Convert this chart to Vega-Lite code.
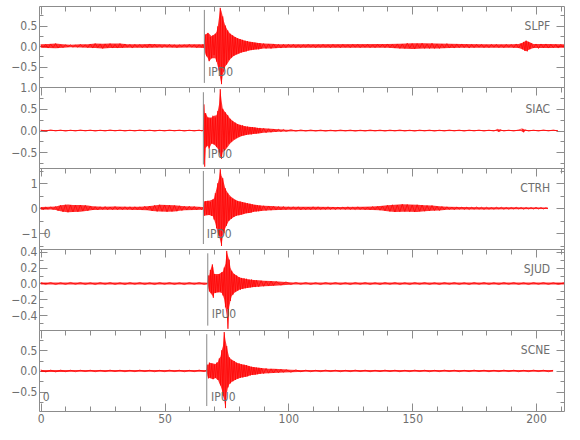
{
"$schema": "https://vega.github.io/schema/vega-lite/v6.json",
"padding": {"left": 5, "top": 5, "right": 5, "bottom": 5},
"spacing": 0,
"bounds": "flush",
"config": {
  "view": {"stroke": "#8c8c8c", "strokeWidth": 1},
  "axis": {"domain": false, "grid": false, "tickColor": "#8c8c8c", "tickWidth": 1, "labelColor": "#6e6e6e", "labelFont": "Liberation Sans Narrow, DejaVu Sans Condensed, Liberation Sans, sans-serif", "labelFontSize": 12},
  "text": {"font": "Liberation Sans Narrow, DejaVu Sans Condensed, Liberation Sans, sans-serif", "fontSize": 12, "color": "#6e6e6e"}
},
"resolve": {"scale": {"x": "independent", "y": "independent"}},
"datasets": {
"w1": [
{"t":0,"v":0.02},{"t":1,"v":-0.03},{"t":2,"v":0.04},{"t":3,"v":-0.05},{"t":4,"v":0.05},{"t":5,"v":-0.04},{"t":6,"v":0.06},{"t":7,"v":-0.05},{"t":8,"v":0.03},{"t":9,"v":-0.04},
{"t":10,"v":0.03},{"t":11,"v":-0.02},{"t":12,"v":0.03},{"t":13,"v":-0.03},{"t":14,"v":0.02},{"t":15,"v":-0.03},{"t":16,"v":0.04},{"t":17,"v":-0.03},{"t":18,"v":0.03},{"t":19,"v":-0.04},
{"t":20,"v":0.05},{"t":21,"v":-0.05},{"t":22,"v":0.06},{"t":23,"v":-0.04},{"t":24,"v":0.05},{"t":25,"v":-0.06},{"t":26,"v":0.05},{"t":27,"v":-0.04},{"t":28,"v":0.06},{"t":29,"v":-0.05},
{"t":30,"v":0.04},{"t":31,"v":-0.05},{"t":32,"v":0.06},{"t":33,"v":-0.04},{"t":34,"v":0.05},{"t":35,"v":-0.03},{"t":36,"v":0.04},{"t":37,"v":-0.05},{"t":38,"v":0.04},{"t":39,"v":-0.03},
{"t":40,"v":0.04},{"t":41,"v":-0.04},{"t":42,"v":0.03},{"t":43,"v":-0.04},{"t":44,"v":0.05},{"t":45,"v":-0.03},{"t":46,"v":0.04},{"t":47,"v":-0.03},{"t":48,"v":0.03},{"t":49,"v":-0.04},
{"t":50,"v":0.03},{"t":51,"v":-0.03},{"t":52,"v":0.04},{"t":53,"v":-0.03},{"t":54,"v":0.03},{"t":55,"v":-0.04},{"t":56,"v":0.03},{"t":57,"v":-0.02},{"t":58,"v":0.03},{"t":59,"v":-0.03},
{"t":60,"v":0.04},{"t":61,"v":-0.03},{"t":62,"v":0.03},{"t":63,"v":-0.04},{"t":64,"v":0.03},{"t":65,"v":-0.03},{"t":65.5,"v":0.04},{"t":66,"v":-0.05},
{"t":66.5,"v":0.28},{"t":67,"v":-0.25},{"t":67.5,"v":0.32},{"t":68,"v":-0.37},{"t":68.5,"v":0.22},{"t":69,"v":-0.3},{"t":69.5,"v":0.26},{"t":70,"v":-0.22},{"t":70.5,"v":0.3},{"t":71,"v":-0.38},
{"t":71.5,"v":0.48},{"t":72,"v":-0.6},{"t":72.5,"v":0.93},{"t":73,"v":-0.93},{"t":73.5,"v":0.72},{"t":74,"v":-0.62},{"t":74.5,"v":0.5},{"t":75,"v":-0.45},{"t":75.5,"v":0.38},{"t":76,"v":-0.34},
{"t":76.5,"v":0.3},{"t":77,"v":-0.28},{"t":77.5,"v":0.26},{"t":78,"v":-0.24},{"t":78.5,"v":0.22},{"t":79,"v":-0.2},{"t":79.5,"v":0.19},{"t":80,"v":-0.18},{"t":80.5,"v":0.17},{"t":81,"v":-0.16},
{"t":81.5,"v":0.15},{"t":82,"v":-0.14},{"t":82.5,"v":0.13},{"t":83,"v":-0.13},{"t":83.5,"v":0.12},{"t":84,"v":-0.11},{"t":84.5,"v":0.1},{"t":85,"v":-0.1},{"t":85.5,"v":0.09},{"t":86,"v":-0.09},
{"t":86.5,"v":0.08},{"t":87,"v":-0.08},{"t":87.5,"v":0.07},{"t":88,"v":-0.08},{"t":88.5,"v":0.07},{"t":89,"v":-0.06},{"t":90,"v":0.06},{"t":91,"v":-0.06},{"t":92,"v":0.05},{"t":93,"v":-0.06},
{"t":94,"v":0.05},{"t":95,"v":-0.05},{"t":96,"v":0.04},{"t":97,"v":-0.05},{"t":98,"v":0.04},{"t":99,"v":-0.04},{"t":100,"v":0.04},
{"t":101,"v":-0.03},{"t":102,"v":0.04},{"t":103,"v":-0.04},{"t":104,"v":0.03},{"t":105,"v":-0.04},{"t":106,"v":0.03},{"t":107,"v":-0.03},{"t":108,"v":0.04},{"t":109,"v":-0.03},{"t":110,"v":0.03},
{"t":111,"v":-0.04},{"t":112,"v":0.03},{"t":113,"v":-0.03},{"t":114,"v":0.04},{"t":115,"v":-0.03},{"t":116,"v":0.03},{"t":117,"v":-0.04},{"t":118,"v":0.04},{"t":119,"v":-0.03},{"t":120,"v":0.03},
{"t":121,"v":-0.04},{"t":122,"v":0.04},{"t":123,"v":-0.03},{"t":124,"v":0.03},{"t":125,"v":-0.04},{"t":126,"v":0.04},{"t":127,"v":-0.03},{"t":128,"v":0.04},{"t":129,"v":-0.04},{"t":130,"v":0.03},
{"t":131,"v":-0.03},{"t":132,"v":0.04},{"t":133,"v":-0.04},{"t":134,"v":0.03},{"t":135,"v":-0.04},{"t":136,"v":0.04},{"t":137,"v":-0.03},{"t":138,"v":0.04},{"t":139,"v":-0.04},{"t":140,"v":0.05},
{"t":141,"v":-0.04},{"t":142,"v":0.04},{"t":143,"v":-0.05},{"t":144,"v":0.05},{"t":145,"v":-0.06},{"t":146,"v":0.05},{"t":147,"v":-0.06},{"t":148,"v":0.07},{"t":149,"v":-0.05},{"t":150,"v":0.06},
{"t":151,"v":-0.07},{"t":152,"v":0.06},{"t":153,"v":-0.05},{"t":154,"v":0.07},{"t":155,"v":-0.06},{"t":156,"v":0.05},{"t":157,"v":-0.06},{"t":158,"v":0.07},{"t":159,"v":-0.06},{"t":160,"v":0.05},
{"t":161,"v":-0.06},{"t":162,"v":0.05},{"t":163,"v":-0.05},{"t":164,"v":0.06},{"t":165,"v":-0.05},{"t":166,"v":0.04},{"t":167,"v":-0.05},{"t":168,"v":0.05},{"t":169,"v":-0.04},{"t":170,"v":0.05},
{"t":171,"v":-0.04},{"t":172,"v":0.04},{"t":173,"v":-0.05},{"t":174,"v":0.04},{"t":175,"v":-0.04},{"t":176,"v":0.04},{"t":177,"v":-0.03},{"t":178,"v":0.04},{"t":179,"v":-0.04},{"t":180,"v":0.03},
{"t":181,"v":-0.04},{"t":182,"v":0.04},{"t":183,"v":-0.03},{"t":184,"v":0.04},{"t":185,"v":-0.04},{"t":186,"v":0.03},{"t":187,"v":-0.04},{"t":188,"v":0.04},{"t":189,"v":-0.03},{"t":190,"v":0.04},
{"t":191,"v":-0.04},{"t":192,"v":0.05},{"t":193,"v":-0.05},{"t":194,"v":0.06},{"t":194.5,"v":-0.08},{"t":195,"v":0.1},{"t":195.5,"v":-0.12},{"t":196,"v":0.13},{"t":196.5,"v":-0.13},{"t":197,"v":0.1},
{"t":197.5,"v":-0.08},{"t":198,"v":0.07},{"t":199,"v":-0.05},{"t":200,"v":0.05},{"t":201,"v":-0.06},{"t":202,"v":0.05},{"t":203,"v":-0.04},{"t":204,"v":0.05},{"t":205,"v":-0.05},{"t":206,"v":0.04},
{"t":207,"v":-0.04},{"t":208,"v":0.04},{"t":209,"v":-0.05},{"t":210,"v":0.04},{"t":211,"v":-0.03},{"t":211.3,"v":0.02}
],
"w2": [
{"t":0,"v":0.01},{"t":2,"v":-0.012},{"t":4,"v":0.015},{"t":6,"v":-0.01},{"t":8,"v":0.012},{"t":10,"v":-0.015},{"t":12,"v":0.01},{"t":14,"v":-0.012},{"t":16,"v":0.014},{"t":18,"v":-0.01},
{"t":20,"v":0.012},{"t":22,"v":-0.014},{"t":24,"v":0.01},{"t":26,"v":-0.012},{"t":28,"v":0.015},{"t":30,"v":-0.01},{"t":32,"v":0.012},{"t":34,"v":-0.013},{"t":36,"v":0.01},{"t":38,"v":-0.012},
{"t":40,"v":0.014},{"t":42,"v":-0.01},{"t":44,"v":0.012},{"t":46,"v":-0.015},{"t":48,"v":0.01},{"t":50,"v":-0.012},{"t":52,"v":0.013},{"t":54,"v":-0.01},{"t":56,"v":0.012},{"t":58,"v":-0.014},
{"t":60,"v":0.01},{"t":62,"v":-0.012},{"t":64,"v":0.012},{"t":65,"v":-0.01},{"t":65.67,"v":0},
{"t":65.9,"v":0.6},{"t":66.2,"v":-0.83},{"t":66.6,"v":0.4},{"t":67,"v":-0.35},{"t":67.5,"v":0.3},{"t":68,"v":-0.42},{"t":68.5,"v":0.28},{"t":69,"v":-0.3},{"t":69.5,"v":0.34},{"t":70,"v":-0.32},
{"t":70.5,"v":0.3},{"t":71,"v":-0.38},{"t":71.5,"v":0.45},{"t":72,"v":-0.5},{"t":72.5,"v":0.95},{"t":73,"v":-0.65},{"t":73.5,"v":0.5},{"t":74,"v":-0.45},{"t":74.5,"v":0.42},{"t":75,"v":-0.38},
{"t":75.5,"v":0.35},{"t":76,"v":-0.3},{"t":76.5,"v":0.27},{"t":77,"v":-0.25},{"t":77.5,"v":0.22},{"t":78,"v":-0.2},{"t":78.5,"v":0.18},{"t":79,"v":-0.17},{"t":79.5,"v":0.15},{"t":80,"v":-0.14},
{"t":80.5,"v":0.13},{"t":81,"v":-0.12},{"t":81.5,"v":0.12},{"t":82,"v":-0.11},{"t":82.5,"v":0.1},{"t":83,"v":-0.1},{"t":83.5,"v":0.09},{"t":84,"v":-0.09},{"t":84.5,"v":0.08},{"t":85,"v":-0.09},
{"t":85.5,"v":0.08},{"t":86,"v":-0.07},{"t":86.5,"v":0.07},{"t":87,"v":-0.07},{"t":87.5,"v":0.06},{"t":88,"v":-0.06},{"t":88.5,"v":0.06},{"t":89,"v":-0.05},{"t":90,"v":0.05},{"t":91,"v":-0.05},
{"t":92,"v":0.04},{"t":93,"v":-0.04},{"t":94,"v":0.035},{"t":95,"v":-0.03},{"t":96,"v":0.03},{"t":97,"v":-0.025},{"t":98,"v":0.025},{"t":99,"v":-0.02},
{"t":101,"v":0.02},{"t":103,"v":-0.015},{"t":105,"v":0.015},{"t":107,"v":-0.012},{"t":109,"v":0.014},{"t":111,"v":-0.012},{"t":113,"v":0.012},{"t":115,"v":-0.014},{"t":117,"v":0.01},{"t":119,"v":-0.012},
{"t":121,"v":0.013},{"t":123,"v":-0.01},{"t":125,"v":0.012},{"t":127,"v":-0.014},{"t":129,"v":0.01},{"t":131,"v":-0.012},{"t":133,"v":0.014},{"t":135,"v":-0.01},{"t":137,"v":0.012},{"t":139,"v":-0.013},
{"t":141,"v":0.012},{"t":143,"v":-0.01},{"t":145,"v":0.014},{"t":147,"v":-0.012},{"t":149,"v":0.01},{"t":151,"v":-0.014},{"t":153,"v":0.012},{"t":155,"v":-0.01},{"t":157,"v":0.012},{"t":159,"v":-0.014},
{"t":161,"v":0.01},{"t":163,"v":-0.012},{"t":165,"v":0.013},{"t":167,"v":-0.01},{"t":169,"v":0.012},{"t":171,"v":-0.014},{"t":173,"v":0.012},{"t":175,"v":-0.01},{"t":177,"v":0.012},{"t":179,"v":-0.013},
{"t":181,"v":0.01},{"t":183,"v":-0.012},{"t":184.5,"v":0.03},{"t":185,"v":-0.03},{"t":185.5,"v":0.02},{"t":187,"v":-0.012},{"t":189,"v":0.01},{"t":191,"v":-0.012},{"t":193,"v":0.014},{"t":194.5,"v":0.04},
{"t":195,"v":-0.04},{"t":195.5,"v":0.02},{"t":197,"v":-0.012},{"t":199,"v":0.01},{"t":201,"v":-0.012},{"t":203,"v":0.014},{"t":205,"v":-0.01},{"t":207,"v":0.012},{"t":208.8,"v":-0.01}
],
"w3": [
{"t":0,"v":0.05},{"t":1,"v":-0.06},{"t":2,"v":0.05},{"t":3,"v":-0.04},{"t":4,"v":0.06},{"t":5,"v":-0.05},{"t":6,"v":0.07},{"t":7,"v":-0.1},{"t":8,"v":0.12},{"t":9,"v":-0.15},
{"t":10,"v":0.14},{"t":11,"v":-0.16},{"t":12,"v":0.13},{"t":13,"v":-0.15},{"t":14,"v":0.12},{"t":15,"v":-0.14},{"t":16,"v":0.13},{"t":17,"v":-0.11},{"t":18,"v":0.12},{"t":19,"v":-0.1},
{"t":20,"v":0.08},{"t":21,"v":-0.07},{"t":22,"v":0.06},{"t":23,"v":-0.07},{"t":24,"v":0.06},{"t":25,"v":-0.05},{"t":26,"v":0.07},{"t":27,"v":-0.06},{"t":28,"v":0.05},{"t":29,"v":-0.06},
{"t":30,"v":0.07},{"t":31,"v":-0.06},{"t":32,"v":0.05},{"t":33,"v":-0.06},{"t":34,"v":0.06},{"t":35,"v":-0.05},{"t":36,"v":0.06},{"t":37,"v":-0.07},{"t":38,"v":0.06},{"t":39,"v":-0.05},
{"t":40,"v":0.06},{"t":41,"v":-0.07},{"t":42,"v":0.08},{"t":43,"v":-0.07},{"t":44,"v":0.09},{"t":45,"v":-0.11},{"t":46,"v":0.12},{"t":47,"v":-0.13},{"t":48,"v":0.14},{"t":49,"v":-0.12},
{"t":50,"v":0.13},{"t":51,"v":-0.14},{"t":52,"v":0.12},{"t":53,"v":-0.13},{"t":54,"v":0.11},{"t":55,"v":-0.12},{"t":56,"v":0.1},{"t":57,"v":-0.09},{"t":58,"v":0.08},{"t":59,"v":-0.07},
{"t":60,"v":0.08},{"t":61,"v":-0.06},{"t":62,"v":0.07},{"t":63,"v":-0.06},{"t":64,"v":0.05},{"t":65,"v":-0.06},{"t":65.67,"v":0.05},
{"t":66,"v":-0.3},{"t":66.5,"v":0.28},{"t":67,"v":-0.25},{"t":67.5,"v":0.3},{"t":68,"v":-0.27},{"t":68.5,"v":0.25},{"t":69,"v":-0.3},{"t":69.5,"v":0.35},{"t":70,"v":-0.45},{"t":70.5,"v":0.6},
{"t":71,"v":-0.8},{"t":71.5,"v":1.0},{"t":72,"v":-1.1},{"t":72.5,"v":1.56},{"t":73,"v":-1.51},{"t":73.5,"v":1.2},{"t":74,"v":-1.0},{"t":74.5,"v":0.8},{"t":75,"v":-0.7},{"t":75.5,"v":0.6},
{"t":76,"v":-0.5},{"t":76.5,"v":0.45},{"t":77,"v":-0.42},{"t":77.5,"v":0.38},{"t":78,"v":-0.35},{"t":78.5,"v":0.33},{"t":79,"v":-0.3},{"t":79.5,"v":0.29},{"t":80,"v":-0.28},{"t":80.5,"v":0.27},
{"t":81,"v":-0.25},{"t":81.5,"v":0.24},{"t":82,"v":-0.22},{"t":82.5,"v":0.22},{"t":83,"v":-0.2},{"t":83.5,"v":0.2},{"t":84,"v":-0.19},{"t":84.5,"v":0.18},{"t":85,"v":-0.17},{"t":85.5,"v":0.15},
{"t":86,"v":-0.14},{"t":86.5,"v":0.13},{"t":87,"v":-0.13},{"t":87.5,"v":0.12},{"t":88,"v":-0.12},{"t":88.5,"v":0.11},{"t":89,"v":-0.1},{"t":90,"v":0.1},{"t":91,"v":-0.09},{"t":92,"v":0.09},
{"t":93,"v":-0.08},{"t":94,"v":0.08},{"t":95,"v":-0.07},{"t":96,"v":0.07},{"t":97,"v":-0.06},{"t":98,"v":0.07},{"t":99,"v":-0.06},{"t":100,"v":0.06},
{"t":101,"v":-0.05},{"t":102,"v":0.06},{"t":103,"v":-0.05},{"t":104,"v":0.06},{"t":105,"v":-0.07},{"t":106,"v":0.05},{"t":107,"v":-0.06},{"t":108,"v":0.05},{"t":109,"v":-0.06},{"t":110,"v":0.06},
{"t":111,"v":-0.05},{"t":112,"v":0.06},{"t":113,"v":-0.05},{"t":114,"v":0.04},{"t":115,"v":-0.05},{"t":116,"v":0.06},{"t":117,"v":-0.05},{"t":118,"v":0.05},{"t":119,"v":-0.06},{"t":120,"v":0.05},
{"t":121,"v":-0.04},{"t":122,"v":0.05},{"t":123,"v":-0.05},{"t":124,"v":0.06},{"t":125,"v":-0.05},{"t":126,"v":0.04},{"t":127,"v":-0.05},{"t":128,"v":0.06},{"t":129,"v":-0.05},{"t":130,"v":0.05},
{"t":131,"v":-0.06},{"t":132,"v":0.05},{"t":133,"v":-0.06},{"t":134,"v":0.07},{"t":135,"v":-0.06},{"t":136,"v":0.07},{"t":137,"v":-0.08},{"t":138,"v":0.09},{"t":139,"v":-0.1},{"t":140,"v":0.12},
{"t":141,"v":-0.13},{"t":142,"v":0.14},{"t":143,"v":-0.15},{"t":144,"v":0.13},{"t":145,"v":-0.14},{"t":146,"v":0.16},{"t":147,"v":-0.13},{"t":148,"v":0.15},{"t":149,"v":-0.14},{"t":150,"v":0.13},
{"t":151,"v":-0.15},{"t":152,"v":0.14},{"t":153,"v":-0.12},{"t":154,"v":0.13},{"t":155,"v":-0.12},{"t":156,"v":0.11},{"t":157,"v":-0.1},{"t":158,"v":0.11},{"t":159,"v":-0.09},{"t":160,"v":0.08},
{"t":161,"v":-0.09},{"t":162,"v":0.07},{"t":163,"v":-0.06},{"t":164,"v":0.06},{"t":165,"v":-0.05},{"t":166,"v":0.05},{"t":167,"v":-0.06},{"t":168,"v":0.05},{"t":169,"v":-0.04},{"t":170,"v":0.05},
{"t":171,"v":-0.05},{"t":172,"v":0.04},{"t":173,"v":-0.05},{"t":174,"v":0.04},{"t":175,"v":-0.04},{"t":176,"v":0.05},{"t":177,"v":-0.04},{"t":178,"v":0.04},{"t":179,"v":-0.05},{"t":180,"v":0.04},
{"t":181,"v":-0.04},{"t":182,"v":0.03},{"t":183,"v":-0.04},{"t":184,"v":0.04},{"t":185,"v":-0.03},{"t":186,"v":0.04},{"t":187,"v":-0.04},{"t":188,"v":0.03},{"t":189,"v":-0.04},{"t":190,"v":0.03},
{"t":191,"v":-0.03},{"t":192,"v":0.04},{"t":193,"v":-0.03},{"t":194,"v":0.03},{"t":195,"v":-0.04},{"t":196,"v":0.03},{"t":197,"v":-0.03},{"t":198,"v":0.03},{"t":199,"v":-0.03},{"t":200,"v":0.04},
{"t":201,"v":-0.03},{"t":202,"v":0.03},{"t":203,"v":-0.03},{"t":204,"v":0.02},{"t":204.8,"v":-0.02}
],
"w4": [
{"t":0,"v":0.012},{"t":2,"v":-0.01},{"t":4,"v":0.012},{"t":6,"v":-0.013},{"t":8,"v":0.01},{"t":10,"v":-0.012},{"t":12,"v":0.013},{"t":14,"v":-0.01},{"t":16,"v":0.012},{"t":18,"v":-0.012},
{"t":20,"v":0.01},{"t":22,"v":-0.013},{"t":24,"v":0.012},{"t":26,"v":-0.01},{"t":28,"v":0.012},{"t":30,"v":-0.012},{"t":32,"v":0.01},{"t":34,"v":-0.013},{"t":36,"v":0.012},{"t":38,"v":-0.01},
{"t":40,"v":0.012},{"t":42,"v":-0.012},{"t":44,"v":0.01},{"t":46,"v":-0.013},{"t":48,"v":0.012},{"t":50,"v":-0.01},{"t":52,"v":0.012},{"t":54,"v":-0.012},{"t":56,"v":0.01},{"t":58,"v":-0.013},
{"t":60,"v":0.012},{"t":62,"v":-0.01},{"t":64,"v":0.012},{"t":66,"v":-0.012},{"t":67.45,"v":0},
{"t":67.7,"v":0.1},{"t":68.1,"v":-0.1},{"t":68.5,"v":0.17},{"t":68.9,"v":-0.12},{"t":69.3,"v":0.24},{"t":69.7,"v":-0.18},{"t":70.1,"v":0.12},{"t":70.6,"v":-0.12},{"t":71.1,"v":0.1},{"t":71.6,"v":-0.11},
{"t":72.1,"v":0.12},{"t":72.6,"v":-0.1},{"t":73.1,"v":0.14},{"t":73.6,"v":-0.15},{"t":74.1,"v":0.2},{"t":74.6,"v":-0.3},{"t":75.1,"v":0.41},{"t":75.6,"v":-0.57},{"t":76.1,"v":0.3},{"t":76.6,"v":-0.22},
{"t":77.1,"v":0.16},{"t":77.6,"v":-0.14},{"t":78.1,"v":0.12},{"t":78.6,"v":-0.1},{"t":79.1,"v":0.1},{"t":79.6,"v":-0.09},{"t":80.1,"v":0.08},{"t":80.6,"v":-0.08},{"t":81.1,"v":0.07},{"t":81.6,"v":-0.07},
{"t":82.1,"v":0.065},{"t":82.6,"v":-0.06},{"t":83.1,"v":0.06},{"t":83.6,"v":-0.055},{"t":84.1,"v":0.05},{"t":84.6,"v":-0.05},{"t":85.1,"v":0.05},{"t":85.6,"v":-0.045},{"t":86.1,"v":0.04},{"t":86.6,"v":-0.045},
{"t":87.1,"v":0.04},{"t":88,"v":-0.04},{"t":89,"v":0.035},{"t":90,"v":-0.035},{"t":91,"v":0.03},{"t":92,"v":-0.03},{"t":93,"v":0.03},{"t":94,"v":-0.025},{"t":95,"v":0.025},{"t":97,"v":-0.02},{"t":99,"v":0.02},
{"t":101,"v":-0.012},{"t":103,"v":0.013},{"t":105,"v":-0.01},{"t":107,"v":0.012},{"t":109,"v":-0.012},{"t":111,"v":0.01},{"t":113,"v":-0.013},{"t":115,"v":0.012},{"t":117,"v":-0.01},{"t":119,"v":0.012},
{"t":121,"v":-0.012},{"t":123,"v":0.01},{"t":125,"v":-0.013},{"t":127,"v":0.012},{"t":129,"v":-0.01},{"t":131,"v":0.012},{"t":133,"v":-0.012},{"t":135,"v":0.01},{"t":137,"v":-0.013},{"t":139,"v":0.012},
{"t":141,"v":-0.01},{"t":143,"v":0.012},{"t":145,"v":-0.012},{"t":147,"v":0.01},{"t":149,"v":-0.013},{"t":151,"v":0.012},{"t":153,"v":-0.01},{"t":155,"v":0.012},{"t":157,"v":-0.012},{"t":159,"v":0.01},
{"t":161,"v":-0.013},{"t":163,"v":0.012},{"t":165,"v":-0.01},{"t":167,"v":0.012},{"t":169,"v":-0.012},{"t":171,"v":0.01},{"t":173,"v":-0.013},{"t":175,"v":0.012},{"t":177,"v":-0.01},{"t":179,"v":0.012},
{"t":181,"v":-0.012},{"t":183,"v":0.01},{"t":185,"v":-0.013},{"t":187,"v":0.012},{"t":189,"v":-0.01},{"t":191,"v":0.012},{"t":193,"v":-0.012},{"t":195,"v":0.01},{"t":197,"v":-0.013},{"t":199,"v":0.012},
{"t":201,"v":-0.01},{"t":203,"v":0.012},{"t":205,"v":-0.012},{"t":207,"v":0.01},{"t":209,"v":-0.012},{"t":211.3,"v":0.01}
],
"w5": [
{"t":0,"v":0.025},{"t":2,"v":-0.025},{"t":4,"v":0.02},{"t":6,"v":-0.025},{"t":8,"v":0.02},{"t":10,"v":-0.02},{"t":12,"v":0.018},{"t":14,"v":-0.02},{"t":16,"v":0.018},{"t":18,"v":-0.016},
{"t":20,"v":0.018},{"t":22,"v":-0.02},{"t":24,"v":0.016},{"t":26,"v":-0.018},{"t":28,"v":0.02},{"t":30,"v":-0.016},{"t":32,"v":0.018},{"t":34,"v":-0.02},{"t":36,"v":0.016},{"t":38,"v":-0.018},
{"t":40,"v":0.02},{"t":42,"v":-0.016},{"t":44,"v":0.018},{"t":46,"v":-0.02},{"t":48,"v":0.016},{"t":50,"v":-0.018},{"t":52,"v":0.02},{"t":54,"v":-0.016},{"t":56,"v":0.018},{"t":58,"v":-0.02},
{"t":60,"v":0.016},{"t":62,"v":-0.018},{"t":64,"v":0.02},{"t":66,"v":-0.016},{"t":67.04,"v":0.02},
{"t":67.3,"v":0.15},{"t":67.7,"v":-0.18},{"t":68.1,"v":0.2},{"t":68.6,"v":-0.16},{"t":69.1,"v":0.18},{"t":69.6,"v":-0.2},{"t":70.1,"v":0.15},{"t":70.6,"v":-0.17},{"t":71.1,"v":0.2},{"t":71.6,"v":-0.22},
{"t":72.1,"v":0.3},{"t":72.6,"v":-0.35},{"t":73.1,"v":0.5},{"t":73.6,"v":-0.6},{"t":74.1,"v":0.94},{"t":74.6,"v":-0.9},{"t":75.1,"v":0.6},{"t":75.6,"v":-0.4},{"t":76.1,"v":0.33},{"t":76.6,"v":-0.3},
{"t":77.1,"v":0.27},{"t":77.6,"v":-0.25},{"t":78.1,"v":0.24},{"t":78.6,"v":-0.22},{"t":79.1,"v":0.2},{"t":79.6,"v":-0.19},{"t":80.1,"v":0.18},{"t":80.6,"v":-0.17},{"t":81.1,"v":0.16},{"t":81.6,"v":-0.16},
{"t":82.1,"v":0.15},{"t":82.6,"v":-0.14},{"t":83.1,"v":0.14},{"t":83.6,"v":-0.13},{"t":84.1,"v":0.12},{"t":84.6,"v":-0.11},{"t":85.1,"v":0.1},{"t":85.6,"v":-0.1},{"t":86.1,"v":0.09},{"t":86.6,"v":-0.09},
{"t":87.1,"v":0.08},{"t":87.6,"v":-0.08},{"t":88.1,"v":0.075},{"t":88.6,"v":-0.07},{"t":89.1,"v":0.07},{"t":90,"v":-0.065},{"t":91,"v":0.06},{"t":92,"v":-0.055},{"t":93,"v":0.05},{"t":94,"v":-0.05},
{"t":95,"v":0.045},{"t":96,"v":-0.045},{"t":97,"v":0.04},{"t":98,"v":-0.035},{"t":99,"v":0.03},{"t":101,"v":-0.03},{"t":103,"v":0.025},
{"t":105,"v":-0.02},{"t":107,"v":0.018},{"t":109,"v":-0.02},{"t":111,"v":0.016},{"t":113,"v":-0.018},{"t":115,"v":0.02},{"t":117,"v":-0.016},{"t":119,"v":0.018},{"t":121,"v":-0.02},{"t":123,"v":0.016},
{"t":125,"v":-0.018},{"t":127,"v":0.02},{"t":129,"v":-0.016},{"t":131,"v":0.018},{"t":133,"v":-0.02},{"t":135,"v":0.016},{"t":137,"v":-0.018},{"t":139,"v":0.02},{"t":141,"v":-0.016},{"t":143,"v":0.018},
{"t":145,"v":-0.02},{"t":147,"v":0.016},{"t":149,"v":-0.018},{"t":151,"v":0.02},{"t":153,"v":-0.016},{"t":155,"v":0.018},{"t":157,"v":-0.02},{"t":159,"v":0.016},{"t":161,"v":-0.018},{"t":163,"v":0.02},
{"t":165,"v":-0.016},{"t":167,"v":0.018},{"t":169,"v":-0.02},{"t":171,"v":0.016},{"t":173,"v":-0.018},{"t":175,"v":0.02},{"t":177,"v":-0.016},{"t":179,"v":0.018},{"t":181,"v":-0.02},{"t":183,"v":0.016},
{"t":185,"v":-0.018},{"t":187,"v":0.02},{"t":189,"v":-0.016},{"t":191,"v":0.018},{"t":193,"v":-0.02},{"t":195,"v":0.016},{"t":197,"v":-0.018},{"t":199,"v":0.02},{"t":201,"v":-0.016},{"t":203,"v":0.018},
{"t":205,"v":-0.02},{"t":206.9,"v":0.016}
],
"e1": [
{"t":0,"hi":0.04,"lo":-0.04},{"t":3,"hi":0.05,"lo":-0.05},{"t":6,"hi":0.06,"lo":-0.055},{"t":9,"hi":0.04,"lo":-0.04},{"t":12,"hi":0.03,"lo":-0.03},{"t":16,"hi":0.04,"lo":-0.035},{"t":19,"hi":0.04,"lo":-0.045},{"t":22,"hi":0.06,"lo":-0.05},{"t":25,"hi":0.055,"lo":-0.06},{"t":28,"hi":0.06,"lo":-0.05},
{"t":32,"hi":0.06,"lo":-0.05},{"t":35,"hi":0.045,"lo":-0.04},{"t":40,"hi":0.045,"lo":-0.045},{"t":44,"hi":0.05,"lo":-0.04},{"t":50,"hi":0.04,"lo":-0.035},{"t":55,"hi":0.035,"lo":-0.04},{"t":60,"hi":0.04,"lo":-0.035},{"t":66,"hi":0.045,"lo":-0.05},
{"t":66.5,"hi":0.28,"lo":-0.2},{"t":67.5,"hi":0.32,"lo":-0.3},{"t":68,"hi":0.3,"lo":-0.37},{"t":69,"hi":0.24,"lo":-0.3},{"t":70.5,"hi":0.3,"lo":-0.3},{"t":71,"hi":0.35,"lo":-0.38},{"t":71.5,"hi":0.48,"lo":-0.5},{"t":72,"hi":0.7,"lo":-0.6},{"t":72.5,"hi":0.93,"lo":-0.8},{"t":73,"hi":0.85,"lo":-0.93},
{"t":73.5,"hi":0.72,"lo":-0.7},{"t":74,"hi":0.6,"lo":-0.62},{"t":74.5,"hi":0.5,"lo":-0.5},{"t":75.5,"hi":0.38,"lo":-0.42},{"t":76.5,"hi":0.3,"lo":-0.32},{"t":78,"hi":0.24,"lo":-0.24},{"t":79.5,"hi":0.19,"lo":-0.2},{"t":81,"hi":0.16,"lo":-0.16},{"t":82.5,"hi":0.13,"lo":-0.14},{"t":84,"hi":0.11,"lo":-0.11},
{"t":86,"hi":0.09,"lo":-0.09},{"t":88,"hi":0.075,"lo":-0.08},{"t":90,"hi":0.06,"lo":-0.06},{"t":93,"hi":0.055,"lo":-0.06},{"t":96,"hi":0.045,"lo":-0.05},{"t":100,"hi":0.04,"lo":-0.04},{"t":140,"hi":0.05,"lo":-0.045},{"t":145,"hi":0.055,"lo":-0.06},{"t":150,"hi":0.065,"lo":-0.07},{"t":155,"hi":0.07,"lo":-0.06},
{"t":160,"hi":0.06,"lo":-0.06},{"t":165,"hi":0.055,"lo":-0.05},{"t":170,"hi":0.05,"lo":-0.045},{"t":180,"hi":0.04,"lo":-0.04},{"t":190,"hi":0.04,"lo":-0.04},{"t":193,"hi":0.05,"lo":-0.05},{"t":194.5,"hi":0.08,"lo":-0.08},{"t":196,"hi":0.13,"lo":-0.13},{"t":197.5,"hi":0.09,"lo":-0.08},{"t":199,"hi":0.05,"lo":-0.05},
{"t":205,"hi":0.05,"lo":-0.05},{"t":211.3,"hi":0.04,"lo":-0.04}
],
"e2": [
{"t":0,"hi":0.012,"lo":-0.012},{"t":64,"hi":0.012,"lo":-0.012},{"t":65.67,"hi":0.01,"lo":-0.01},{"t":65.9,"hi":0.6,"lo":-0.2},{"t":66.2,"hi":0.4,"lo":-0.83},{"t":66.6,"hi":0.4,"lo":-0.4},{"t":67.5,"hi":0.3,"lo":-0.35},{"t":68,"hi":0.3,"lo":-0.42},{"t":69,"hi":0.3,"lo":-0.3},{"t":70,"hi":0.34,"lo":-0.32},
{"t":71,"hi":0.35,"lo":-0.38},{"t":71.5,"hi":0.45,"lo":-0.42},{"t":72,"hi":0.6,"lo":-0.5},{"t":72.5,"hi":0.95,"lo":-0.6},{"t":73,"hi":0.7,"lo":-0.65},{"t":73.5,"hi":0.5,"lo":-0.5},{"t":74.5,"hi":0.42,"lo":-0.45},{"t":75.5,"hi":0.35,"lo":-0.38},{"t":76.5,"hi":0.27,"lo":-0.3},{"t":78,"hi":0.2,"lo":-0.22},
{"t":79.5,"hi":0.15,"lo":-0.17},{"t":81,"hi":0.12,"lo":-0.13},{"t":82.5,"hi":0.1,"lo":-0.11},{"t":84,"hi":0.09,"lo":-0.09},{"t":86,"hi":0.075,"lo":-0.08},{"t":88,"hi":0.06,"lo":-0.065},{"t":90,"hi":0.05,"lo":-0.05},{"t":93,"hi":0.04,"lo":-0.04},{"t":96,"hi":0.03,"lo":-0.03},{"t":99,"hi":0.02,"lo":-0.02},
{"t":103,"hi":0.015,"lo":-0.015},{"t":184,"hi":0.012,"lo":-0.012},{"t":185,"hi":0.03,"lo":-0.03},{"t":186,"hi":0.012,"lo":-0.012},{"t":194,"hi":0.012,"lo":-0.012},{"t":194.8,"hi":0.04,"lo":-0.04},{"t":195.6,"hi":0.012,"lo":-0.012},{"t":208.8,"hi":0.012,"lo":-0.012}
],
"e3": [
{"t":0,"hi":0.05,"lo":-0.06},{"t":4,"hi":0.06,"lo":-0.05},{"t":6,"hi":0.07,"lo":-0.07},{"t":8,"hi":0.12,"lo":-0.12},{"t":10,"hi":0.14,"lo":-0.15},{"t":11,"hi":0.15,"lo":-0.16},{"t":13,"hi":0.13,"lo":-0.15},{"t":16,"hi":0.13,"lo":-0.14},{"t":19,"hi":0.11,"lo":-0.1},{"t":21,"hi":0.08,"lo":-0.07},
{"t":25,"hi":0.06,"lo":-0.06},{"t":30,"hi":0.07,"lo":-0.06},{"t":35,"hi":0.06,"lo":-0.06},{"t":40,"hi":0.06,"lo":-0.07},{"t":43,"hi":0.08,"lo":-0.08},{"t":45,"hi":0.1,"lo":-0.11},{"t":48,"hi":0.14,"lo":-0.13},{"t":51,"hi":0.13,"lo":-0.14},{"t":54,"hi":0.12,"lo":-0.13},{"t":56,"hi":0.1,"lo":-0.1},
{"t":58,"hi":0.08,"lo":-0.08},{"t":62,"hi":0.07,"lo":-0.065},{"t":65.5,"hi":0.05,"lo":-0.06},{"t":66,"hi":0.28,"lo":-0.3},{"t":68,"hi":0.3,"lo":-0.27},{"t":69.5,"hi":0.35,"lo":-0.32},{"t":70,"hi":0.4,"lo":-0.45},{"t":70.5,"hi":0.6,"lo":-0.6},{"t":71,"hi":0.8,"lo":-0.8},{"t":71.5,"hi":1.0,"lo":-1.0},
{"t":72,"hi":1.2,"lo":-1.1},{"t":72.5,"hi":1.56,"lo":-1.3},{"t":73,"hi":1.3,"lo":-1.51},{"t":73.5,"hi":1.2,"lo":-1.1},{"t":74,"hi":1.0,"lo":-1.0},{"t":74.5,"hi":0.8,"lo":-0.8},{"t":75,"hi":0.7,"lo":-0.7},{"t":76,"hi":0.55,"lo":-0.5},{"t":77,"hi":0.45,"lo":-0.42},{"t":78,"hi":0.38,"lo":-0.35},
{"t":79,"hi":0.32,"lo":-0.3},{"t":80,"hi":0.28,"lo":-0.28},{"t":81.5,"hi":0.25,"lo":-0.25},{"t":83,"hi":0.21,"lo":-0.2},{"t":84.5,"hi":0.18,"lo":-0.19},{"t":86,"hi":0.15,"lo":-0.14},{"t":88,"hi":0.12,"lo":-0.12},{"t":90,"hi":0.1,"lo":-0.1},{"t":93,"hi":0.09,"lo":-0.08},{"t":96,"hi":0.07,"lo":-0.07},
{"t":100,"hi":0.06,"lo":-0.06},{"t":110,"hi":0.06,"lo":-0.06},{"t":120,"hi":0.05,"lo":-0.05},{"t":130,"hi":0.06,"lo":-0.06},{"t":134,"hi":0.07,"lo":-0.07},{"t":137,"hi":0.09,"lo":-0.08},{"t":140,"hi":0.12,"lo":-0.12},{"t":143,"hi":0.14,"lo":-0.15},{"t":146,"hi":0.16,"lo":-0.14},{"t":149,"hi":0.15,"lo":-0.14},
{"t":152,"hi":0.14,"lo":-0.15},{"t":155,"hi":0.12,"lo":-0.12},{"t":158,"hi":0.11,"lo":-0.1},{"t":161,"hi":0.08,"lo":-0.09},{"t":164,"hi":0.06,"lo":-0.06},{"t":170,"hi":0.05,"lo":-0.05},{"t":180,"hi":0.04,"lo":-0.05},{"t":190,"hi":0.04,"lo":-0.04},{"t":204.8,"hi":0.03,"lo":-0.03}
],
"e4": [
{"t":0,"hi":0.012,"lo":-0.013},{"t":66,"hi":0.012,"lo":-0.013},{"t":67.45,"hi":0.01,"lo":-0.01},{"t":67.7,"hi":0.1,"lo":-0.06},{"t":68.1,"hi":0.1,"lo":-0.1},{"t":68.5,"hi":0.17,"lo":-0.12},{"t":69.3,"hi":0.24,"lo":-0.15},{"t":69.7,"hi":0.2,"lo":-0.18},{"t":70.1,"hi":0.12,"lo":-0.12},{"t":72,"hi":0.12,"lo":-0.11},
{"t":73.1,"hi":0.14,"lo":-0.12},{"t":73.6,"hi":0.15,"lo":-0.15},{"t":74.1,"hi":0.2,"lo":-0.2},{"t":74.6,"hi":0.25,"lo":-0.3},{"t":75.1,"hi":0.41,"lo":-0.4},{"t":75.6,"hi":0.35,"lo":-0.57},{"t":76.1,"hi":0.3,"lo":-0.3},{"t":76.6,"hi":0.2,"lo":-0.22},{"t":77.1,"hi":0.16,"lo":-0.16},{"t":78.1,"hi":0.12,"lo":-0.12},
{"t":79.1,"hi":0.1,"lo":-0.1},{"t":80.1,"hi":0.08,"lo":-0.08},{"t":81.1,"hi":0.07,"lo":-0.07},{"t":82.6,"hi":0.06,"lo":-0.06},{"t":84.1,"hi":0.05,"lo":-0.055},{"t":86.1,"hi":0.045,"lo":-0.045},{"t":88,"hi":0.04,"lo":-0.04},{"t":90,"hi":0.035,"lo":-0.035},{"t":93,"hi":0.03,"lo":-0.03},{"t":96,"hi":0.025,"lo":-0.025},
{"t":99,"hi":0.02,"lo":-0.02},{"t":102,"hi":0.013,"lo":-0.013},{"t":211.3,"hi":0.013,"lo":-0.013}
],
"e5": [
{"t":0,"hi":0.025,"lo":-0.025},{"t":8,"hi":0.02,"lo":-0.025},{"t":14,"hi":0.02,"lo":-0.02},{"t":66,"hi":0.02,"lo":-0.018},{"t":67.04,"hi":0.02,"lo":-0.02},{"t":67.3,"hi":0.15,"lo":-0.12},{"t":67.7,"hi":0.15,"lo":-0.18},{"t":68.1,"hi":0.2,"lo":-0.17},{"t":69.6,"hi":0.18,"lo":-0.2},{"t":70.6,"hi":0.17,"lo":-0.17},
{"t":71.1,"hi":0.2,"lo":-0.2},{"t":71.6,"hi":0.22,"lo":-0.22},{"t":72.1,"hi":0.3,"lo":-0.3},{"t":72.6,"hi":0.35,"lo":-0.35},{"t":73.1,"hi":0.5,"lo":-0.45},{"t":73.6,"hi":0.6,"lo":-0.6},{"t":74.1,"hi":0.94,"lo":-0.7},{"t":74.6,"hi":0.75,"lo":-0.9},{"t":75.1,"hi":0.6,"lo":-0.55},{"t":75.6,"hi":0.45,"lo":-0.4},
{"t":76.1,"hi":0.33,"lo":-0.33},{"t":77.1,"hi":0.27,"lo":-0.27},{"t":78.1,"hi":0.24,"lo":-0.23},{"t":79.1,"hi":0.2,"lo":-0.2},{"t":80.1,"hi":0.18,"lo":-0.18},{"t":81.1,"hi":0.16,"lo":-0.16},{"t":82.1,"hi":0.15,"lo":-0.15},{"t":83.1,"hi":0.14,"lo":-0.14},{"t":84.1,"hi":0.12,"lo":-0.12},{"t":85.1,"hi":0.1,"lo":-0.1},
{"t":86.6,"hi":0.09,"lo":-0.09},{"t":88.1,"hi":0.075,"lo":-0.075},{"t":90,"hi":0.065,"lo":-0.065},{"t":92,"hi":0.055,"lo":-0.055},{"t":94,"hi":0.05,"lo":-0.05},{"t":96,"hi":0.045,"lo":-0.045},{"t":98,"hi":0.04,"lo":-0.04},{"t":101,"hi":0.03,"lo":-0.03},{"t":104,"hi":0.025,"lo":-0.025},{"t":107,"hi":0.02,"lo":-0.02},
{"t":206.9,"hi":0.02,"lo":-0.02}
],
"picks": [
{"s":"SLPF","t":66.07,"y1":0.88,"y2":-0.9,"lab":"IPD0","lt":67.6,"lv":-0.63,"nt":205.7,"nv":0.5},
{"s":"SIAC","t":65.67,"y1":0.88,"y2":-0.78,"lab":"IPU0","lt":67.45,"lv":-0.54,"nt":205.7,"nv":0.49},
{"s":"CTRH","t":65.67,"y1":1.49,"y2":-1.43,"lab":"IPD0","lt":67.05,"lv":-1.02,"nt":205.7,"nv":0.82},
{"s":"SJUD","t":67.45,"y1":0.38,"y2":-0.53,"lab":"IPU0","lt":69.05,"lv":-0.39,"nt":205.7,"nv":0.18},
{"s":"SCNE","t":67.04,"y1":0.89,"y2":-0.85,"lab":"IPU0","lt":68.8,"lv":-0.64,"nt":205.7,"nv":0.5}
],
"notes": [
{"s":"CTRH","t":1.2,"v":-1.02,"lab":"0"},
{"s":"SCNE","t":0.8,"v":-0.62,"lab":"0"}
]
},
"vconcat": [
{
 "width": 525, "height": 81,
 "layer": [
  {"data": {"name": "e1"}, "mark": {"type": "area", "color": "#ff0000", "opacity": 0.8, "clip": true},
   "encoding": {
    "x": {"field": "t", "type": "quantitative", "scale": {"domain": [-0.7, 211.3], "nice": false, "zero": false}, "axis": null},
    "y": {"field": "hi", "type": "quantitative", "scale": {"domain": [-1.0, 0.976], "nice": false, "zero": false}, "axis": null},
    "y2": {"field": "lo"}}},
  {"data": {"name": "w1"}, "mark": {"type": "line", "color": "#ff0000", "strokeWidth": 0.7, "clip": true},
   "encoding": {
    "x": {"field": "t", "type": "quantitative", "scale": {"domain": [-0.7, 211.3], "nice": false, "zero": false}, "axis": {"orient": "top", "offset": -8, "tickSize": 8, "labels": false, "values": [0, 50, 100, 150, 200], "title": null, "minExtent": 0, "maxExtent": 0}},
    "y": {"field": "v", "type": "quantitative", "scale": {"domain": [-1.0, 0.976], "nice": false, "zero": false}, "axis": {"orient": "left", "offset": -8, "tickSize": 8, "labelPadding": 2, "values": [-0.5, 0, 0.5], "format": ".1f", "title": null, "minExtent": 41, "maxExtent": 41}}}},
  {"data": {"name": "picks"}, "transform": [{"filter": "datum.s === 'SLPF'"}], "mark": {"type": "rule", "color": "#888888", "strokeWidth": 1},
   "encoding": {
    "x": {"field": "t", "type": "quantitative", "scale": {"domain": [-0.7, 211.3], "nice": false, "zero": false}, "axis": {"orient": "top", "offset": -5, "tickSize": 5, "labels": false, "values": [10, 20, 30, 40, 60, 70, 80, 90, 110, 120, 130, 140, 160, 170, 180, 190, 210], "title": null, "minExtent": 0, "maxExtent": 0}},
    "y": {"field": "y1", "type": "quantitative", "scale": {"domain": [-1.0, 0.976], "nice": false, "zero": false}, "axis": {"orient": "left", "offset": -4, "tickSize": 4, "labels": false, "values": [-0.75, -0.25, 0.25, 0.75], "title": null, "minExtent": 0, "maxExtent": 0}},
    "y2": {"field": "y2"}}},
  {"data": {"name": "picks"}, "transform": [{"filter": "datum.s === 'SLPF'"}], "mark": {"type": "text", "align": "left", "baseline": "middle"},
   "encoding": {
    "x": {"field": "lt", "type": "quantitative", "scale": {"domain": [-0.7, 211.3], "nice": false, "zero": false}, "axis": null},
    "y": {"field": "lv", "type": "quantitative", "scale": {"domain": [-1.0, 0.976], "nice": false, "zero": false}, "axis": {"orient": "right", "offset": -8, "tickSize": 8, "labels": false, "values": [-0.5, 0, 0.5], "title": null, "minExtent": 0, "maxExtent": 0}},
    "text": {"field": "lab"}}},
  {"data": {"name": "picks"}, "transform": [{"filter": "datum.s === 'SLPF'"}], "mark": {"type": "text", "align": "right", "baseline": "middle"},
   "encoding": {
    "x": {"field": "nt", "type": "quantitative", "scale": {"domain": [-0.7, 211.3], "nice": false, "zero": false}, "axis": null},
    "y": {"field": "nv", "type": "quantitative", "scale": {"domain": [-1.0, 0.976], "nice": false, "zero": false}, "axis": {"orient": "right", "offset": -4, "tickSize": 4, "labels": false, "values": [-0.75, -0.25, 0.25, 0.75], "title": null, "minExtent": 0, "maxExtent": 0}},
    "text": {"field": "s"}}}
 ],
 "resolve": {"axis": {"x": "independent", "y": "independent"}}
},
{
 "width": 525, "height": 81,
 "layer": [
  {"data": {"name": "e2"}, "mark": {"type": "area", "color": "#ff0000", "opacity": 0.8, "clip": true},
   "encoding": {
    "x": {"field": "t", "type": "quantitative", "scale": {"domain": [-0.7, 211.3], "nice": false, "zero": false}, "axis": null},
    "y": {"field": "hi", "type": "quantitative", "scale": {"domain": [-0.86, 1.0], "nice": false, "zero": false}, "axis": null},
    "y2": {"field": "lo"}}},
  {"data": {"name": "w2"}, "mark": {"type": "line", "color": "#ff0000", "strokeWidth": 0.7, "clip": true},
   "encoding": {
    "x": {"field": "t", "type": "quantitative", "scale": {"domain": [-0.7, 211.3], "nice": false, "zero": false}, "axis": {"orient": "top", "offset": -8, "tickSize": 8, "labels": false, "values": [0, 50, 100, 150, 200], "title": null, "minExtent": 0, "maxExtent": 0}},
    "y": {"field": "v", "type": "quantitative", "scale": {"domain": [-0.86, 1.0], "nice": false, "zero": false}, "axis": {"orient": "left", "offset": -8, "tickSize": 8, "labelPadding": 2, "values": [-0.5, 0, 0.5, 1], "format": ".1f", "title": null, "minExtent": 41, "maxExtent": 41}}}},
  {"data": {"name": "picks"}, "transform": [{"filter": "datum.s === 'SIAC'"}], "mark": {"type": "rule", "color": "#888888", "strokeWidth": 1},
   "encoding": {
    "x": {"field": "t", "type": "quantitative", "scale": {"domain": [-0.7, 211.3], "nice": false, "zero": false}, "axis": {"orient": "top", "offset": -5, "tickSize": 5, "labels": false, "values": [10, 20, 30, 40, 60, 70, 80, 90, 110, 120, 130, 140, 160, 170, 180, 190, 210], "title": null, "minExtent": 0, "maxExtent": 0}},
    "y": {"field": "y1", "type": "quantitative", "scale": {"domain": [-0.86, 1.0], "nice": false, "zero": false}, "axis": {"orient": "left", "offset": -4, "tickSize": 4, "labels": false, "values": [-0.75, -0.25, 0.25, 0.75], "title": null, "minExtent": 0, "maxExtent": 0}},
    "y2": {"field": "y2"}}},
  {"data": {"name": "picks"}, "transform": [{"filter": "datum.s === 'SIAC'"}], "mark": {"type": "text", "align": "left", "baseline": "middle"},
   "encoding": {
    "x": {"field": "lt", "type": "quantitative", "scale": {"domain": [-0.7, 211.3], "nice": false, "zero": false}, "axis": null},
    "y": {"field": "lv", "type": "quantitative", "scale": {"domain": [-0.86, 1.0], "nice": false, "zero": false}, "axis": {"orient": "right", "offset": -8, "tickSize": 8, "labels": false, "values": [-0.5, 0, 0.5, 1], "title": null, "minExtent": 0, "maxExtent": 0}},
    "text": {"field": "lab"}}},
  {"data": {"name": "picks"}, "transform": [{"filter": "datum.s === 'SIAC'"}], "mark": {"type": "text", "align": "right", "baseline": "middle"},
   "encoding": {
    "x": {"field": "nt", "type": "quantitative", "scale": {"domain": [-0.7, 211.3], "nice": false, "zero": false}, "axis": null},
    "y": {"field": "nv", "type": "quantitative", "scale": {"domain": [-0.86, 1.0], "nice": false, "zero": false}, "axis": {"orient": "right", "offset": -4, "tickSize": 4, "labels": false, "values": [-0.75, -0.25, 0.25, 0.75], "title": null, "minExtent": 0, "maxExtent": 0}},
    "text": {"field": "s"}}}
 ],
 "resolve": {"axis": {"x": "independent", "y": "independent"}}
},
{
 "width": 525, "height": 81,
 "layer": [
  {"data": {"name": "e3"}, "mark": {"type": "area", "color": "#ff0000", "opacity": 0.8, "clip": true},
   "encoding": {
    "x": {"field": "t", "type": "quantitative", "scale": {"domain": [-0.7, 211.3], "nice": false, "zero": false}, "axis": null},
    "y": {"field": "hi", "type": "quantitative", "scale": {"domain": [-1.63, 1.61], "nice": false, "zero": false}, "axis": null},
    "y2": {"field": "lo"}}},
  {"data": {"name": "w3"}, "mark": {"type": "line", "color": "#ff0000", "strokeWidth": 0.7, "clip": true},
   "encoding": {
    "x": {"field": "t", "type": "quantitative", "scale": {"domain": [-0.7, 211.3], "nice": false, "zero": false}, "axis": {"orient": "top", "offset": -8, "tickSize": 8, "labels": false, "values": [0, 50, 100, 150, 200], "title": null, "minExtent": 0, "maxExtent": 0}},
    "y": {"field": "v", "type": "quantitative", "scale": {"domain": [-1.63, 1.61], "nice": false, "zero": false}, "axis": {"orient": "left", "offset": -8, "tickSize": 8, "labelPadding": 2, "values": [-1, 0, 1], "format": ".0f", "title": null, "minExtent": 41, "maxExtent": 41}}}},
  {"data": {"name": "picks"}, "transform": [{"filter": "datum.s === 'CTRH'"}], "mark": {"type": "rule", "color": "#888888", "strokeWidth": 1},
   "encoding": {
    "x": {"field": "t", "type": "quantitative", "scale": {"domain": [-0.7, 211.3], "nice": false, "zero": false}, "axis": {"orient": "top", "offset": -5, "tickSize": 5, "labels": false, "values": [10, 20, 30, 40, 60, 70, 80, 90, 110, 120, 130, 140, 160, 170, 180, 190, 210], "title": null, "minExtent": 0, "maxExtent": 0}},
    "y": {"field": "y1", "type": "quantitative", "scale": {"domain": [-1.63, 1.61], "nice": false, "zero": false}, "axis": {"orient": "left", "offset": -4, "tickSize": 4, "labels": false, "values": [-1.5, -0.5, 0.5, 1.5], "title": null, "minExtent": 0, "maxExtent": 0}},
    "y2": {"field": "y2"}}},
  {"data": {"name": "picks"}, "transform": [{"filter": "datum.s === 'CTRH'"}], "mark": {"type": "text", "align": "left", "baseline": "middle"},
   "encoding": {
    "x": {"field": "lt", "type": "quantitative", "scale": {"domain": [-0.7, 211.3], "nice": false, "zero": false}, "axis": null},
    "y": {"field": "lv", "type": "quantitative", "scale": {"domain": [-1.63, 1.61], "nice": false, "zero": false}, "axis": {"orient": "right", "offset": -8, "tickSize": 8, "labels": false, "values": [-1, 0, 1], "title": null, "minExtent": 0, "maxExtent": 0}},
    "text": {"field": "lab"}}},
  {"data": {"name": "picks"}, "transform": [{"filter": "datum.s === 'CTRH'"}], "mark": {"type": "text", "align": "right", "baseline": "middle"},
   "encoding": {
    "x": {"field": "nt", "type": "quantitative", "scale": {"domain": [-0.7, 211.3], "nice": false, "zero": false}, "axis": null},
    "y": {"field": "nv", "type": "quantitative", "scale": {"domain": [-1.63, 1.61], "nice": false, "zero": false}, "axis": {"orient": "right", "offset": -4, "tickSize": 4, "labels": false, "values": [-1.5, -0.5, 0.5, 1.5], "title": null, "minExtent": 0, "maxExtent": 0}},
    "text": {"field": "s"}}},
  {"data": {"name": "notes"}, "transform": [{"filter": "datum.s === 'CTRH'"}], "mark": {"type": "text", "align": "left", "baseline": "middle"},
   "encoding": {
    "x": {"field": "t", "type": "quantitative", "scale": {"domain": [-0.7, 211.3], "nice": false, "zero": false}, "axis": null},
    "y": {"field": "v", "type": "quantitative", "scale": {"domain": [-1.63, 1.61], "nice": false, "zero": false}, "axis": null},
    "text": {"field": "lab"}}}
 ],
 "resolve": {"axis": {"x": "independent", "y": "independent"}}
},
{
 "width": 525, "height": 81,
 "layer": [
  {"data": {"name": "e4"}, "mark": {"type": "area", "color": "#ff0000", "opacity": 0.8, "clip": true},
   "encoding": {
    "x": {"field": "t", "type": "quantitative", "scale": {"domain": [-0.7, 211.3], "nice": false, "zero": false}, "axis": null},
    "y": {"field": "hi", "type": "quantitative", "scale": {"domain": [-0.585, 0.434], "nice": false, "zero": false}, "axis": null},
    "y2": {"field": "lo"}}},
  {"data": {"name": "w4"}, "mark": {"type": "line", "color": "#ff0000", "strokeWidth": 0.7, "clip": true},
   "encoding": {
    "x": {"field": "t", "type": "quantitative", "scale": {"domain": [-0.7, 211.3], "nice": false, "zero": false}, "axis": {"orient": "top", "offset": -8, "tickSize": 8, "labels": false, "values": [0, 50, 100, 150, 200], "title": null, "minExtent": 0, "maxExtent": 0}},
    "y": {"field": "v", "type": "quantitative", "scale": {"domain": [-0.585, 0.434], "nice": false, "zero": false}, "axis": {"orient": "left", "offset": -8, "tickSize": 8, "labelPadding": 2, "values": [-0.4, -0.2, 0, 0.2, 0.4], "format": ".1f", "title": null, "minExtent": 41, "maxExtent": 41}}}},
  {"data": {"name": "picks"}, "transform": [{"filter": "datum.s === 'SJUD'"}], "mark": {"type": "rule", "color": "#888888", "strokeWidth": 1},
   "encoding": {
    "x": {"field": "t", "type": "quantitative", "scale": {"domain": [-0.7, 211.3], "nice": false, "zero": false}, "axis": {"orient": "top", "offset": -5, "tickSize": 5, "labels": false, "values": [10, 20, 30, 40, 60, 70, 80, 90, 110, 120, 130, 140, 160, 170, 180, 190, 210], "title": null, "minExtent": 0, "maxExtent": 0}},
    "y": {"field": "y1", "type": "quantitative", "scale": {"domain": [-0.585, 0.434], "nice": false, "zero": false}, "axis": {"orient": "left", "offset": -4, "tickSize": 4, "labels": false, "values": [-0.5, -0.3, -0.1, 0.1, 0.3], "title": null, "minExtent": 0, "maxExtent": 0}},
    "y2": {"field": "y2"}}},
  {"data": {"name": "picks"}, "transform": [{"filter": "datum.s === 'SJUD'"}], "mark": {"type": "text", "align": "left", "baseline": "middle"},
   "encoding": {
    "x": {"field": "lt", "type": "quantitative", "scale": {"domain": [-0.7, 211.3], "nice": false, "zero": false}, "axis": null},
    "y": {"field": "lv", "type": "quantitative", "scale": {"domain": [-0.585, 0.434], "nice": false, "zero": false}, "axis": {"orient": "right", "offset": -8, "tickSize": 8, "labels": false, "values": [-0.4, -0.2, 0, 0.2, 0.4], "title": null, "minExtent": 0, "maxExtent": 0}},
    "text": {"field": "lab"}}},
  {"data": {"name": "picks"}, "transform": [{"filter": "datum.s === 'SJUD'"}], "mark": {"type": "text", "align": "right", "baseline": "middle"},
   "encoding": {
    "x": {"field": "nt", "type": "quantitative", "scale": {"domain": [-0.7, 211.3], "nice": false, "zero": false}, "axis": null},
    "y": {"field": "nv", "type": "quantitative", "scale": {"domain": [-0.585, 0.434], "nice": false, "zero": false}, "axis": {"orient": "right", "offset": -4, "tickSize": 4, "labels": false, "values": [-0.5, -0.3, -0.1, 0.1, 0.3], "title": null, "minExtent": 0, "maxExtent": 0}},
    "text": {"field": "s"}}}
 ],
 "resolve": {"axis": {"x": "independent", "y": "independent"}}
},
{
 "width": 525, "height": 81,
 "layer": [
  {"data": {"name": "e5"}, "mark": {"type": "area", "color": "#ff0000", "opacity": 0.8, "clip": true},
   "encoding": {
    "x": {"field": "t", "type": "quantitative", "scale": {"domain": [-0.7, 211.3], "nice": false, "zero": false}, "axis": null},
    "y": {"field": "hi", "type": "quantitative", "scale": {"domain": [-0.97, 0.99], "nice": false, "zero": false}, "axis": null},
    "y2": {"field": "lo"}}},
  {"data": {"name": "w5"}, "mark": {"type": "line", "color": "#ff0000", "strokeWidth": 0.7, "clip": true},
   "encoding": {
    "x": {"field": "t", "type": "quantitative", "scale": {"domain": [-0.7, 211.3], "nice": false, "zero": false}, "axis": {"orient": "top", "offset": -8, "tickSize": 8, "labels": false, "values": [0, 50, 100, 150, 200], "title": null, "minExtent": 0, "maxExtent": 0}},
    "y": {"field": "v", "type": "quantitative", "scale": {"domain": [-0.97, 0.99], "nice": false, "zero": false}, "axis": {"orient": "left", "offset": -8, "tickSize": 8, "labelPadding": 2, "values": [-0.5, 0, 0.5], "format": ".1f", "title": null, "minExtent": 41, "maxExtent": 41}}}},
  {"data": {"name": "picks"}, "transform": [{"filter": "datum.s === 'SCNE'"}], "mark": {"type": "rule", "color": "#888888", "strokeWidth": 1},
   "encoding": {
    "x": {"field": "t", "type": "quantitative", "scale": {"domain": [-0.7, 211.3], "nice": false, "zero": false}, "axis": {"orient": "top", "offset": -5, "tickSize": 5, "labels": false, "values": [10, 20, 30, 40, 60, 70, 80, 90, 110, 120, 130, 140, 160, 170, 180, 190, 210], "title": null, "minExtent": 0, "maxExtent": 0}},
    "y": {"field": "y1", "type": "quantitative", "scale": {"domain": [-0.97, 0.99], "nice": false, "zero": false}, "axis": {"orient": "left", "offset": -4, "tickSize": 4, "labels": false, "values": [-0.75, -0.25, 0.25, 0.75], "title": null, "minExtent": 0, "maxExtent": 0}},
    "y2": {"field": "y2"}}},
  {"data": {"name": "picks"}, "transform": [{"filter": "datum.s === 'SCNE'"}], "mark": {"type": "text", "align": "left", "baseline": "middle"},
   "encoding": {
    "x": {"field": "lt", "type": "quantitative", "scale": {"domain": [-0.7, 211.3], "nice": false, "zero": false}, "axis": {"orient": "bottom", "offset": -8, "tickSize": 8, "labelPadding": 2, "values": [0, 50, 100, 150, 200], "format": "d", "title": null}},
    "y": {"field": "lv", "type": "quantitative", "scale": {"domain": [-0.97, 0.99], "nice": false, "zero": false}, "axis": {"orient": "right", "offset": -8, "tickSize": 8, "labels": false, "values": [-0.5, 0, 0.5], "title": null, "minExtent": 0, "maxExtent": 0}},
    "text": {"field": "lab"}}},
  {"data": {"name": "picks"}, "transform": [{"filter": "datum.s === 'SCNE'"}], "mark": {"type": "text", "align": "right", "baseline": "middle"},
   "encoding": {
    "x": {"field": "nt", "type": "quantitative", "scale": {"domain": [-0.7, 211.3], "nice": false, "zero": false}, "axis": {"orient": "bottom", "offset": -5, "tickSize": 5, "labels": false, "values": [10, 20, 30, 40, 60, 70, 80, 90, 110, 120, 130, 140, 160, 170, 180, 190, 210], "title": null, "minExtent": 0, "maxExtent": 0}},
    "y": {"field": "nv", "type": "quantitative", "scale": {"domain": [-0.97, 0.99], "nice": false, "zero": false}, "axis": {"orient": "right", "offset": -4, "tickSize": 4, "labels": false, "values": [-0.75, -0.25, 0.25, 0.75], "title": null, "minExtent": 0, "maxExtent": 0}},
    "text": {"field": "s"}}},
  {"data": {"name": "notes"}, "transform": [{"filter": "datum.s === 'SCNE'"}], "mark": {"type": "text", "align": "left", "baseline": "middle"},
   "encoding": {
    "x": {"field": "t", "type": "quantitative", "scale": {"domain": [-0.7, 211.3], "nice": false, "zero": false}, "axis": null},
    "y": {"field": "v", "type": "quantitative", "scale": {"domain": [-0.97, 0.99], "nice": false, "zero": false}, "axis": null},
    "text": {"field": "lab"}}}
 ],
 "resolve": {"axis": {"x": "independent", "y": "independent"}}
}
]
}
